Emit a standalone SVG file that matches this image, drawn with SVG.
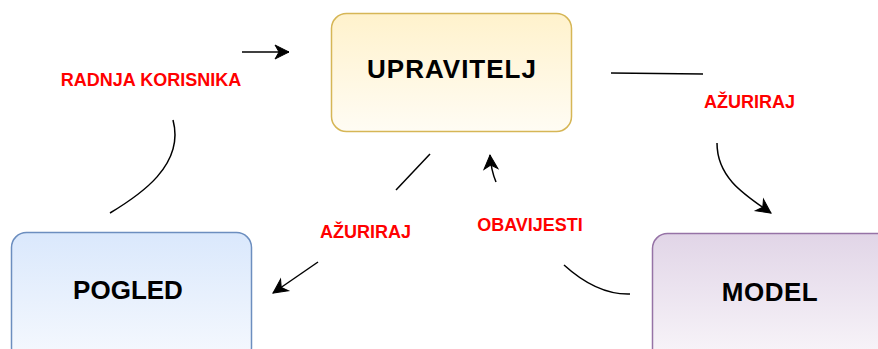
<svg xmlns="http://www.w3.org/2000/svg" width="878" height="349" viewBox="0 0 878 349">
  <style>
    .node-text { font-family: "Liberation Sans", Arial, sans-serif; font-weight: bold; font-size: 26px; fill: #000; text-anchor: middle; }
    .label { font-family: "Liberation Sans", Arial, sans-serif; font-weight: bold; font-size: 18px; fill: #ff0000; text-anchor: middle; }
    .conn { fill: none; stroke: #000; stroke-width: 1.5; }
  </style>
  <defs>
    <linearGradient id="gY" x1="0" y1="0" x2="0" y2="1">
      <stop offset="0" stop-color="#fff2cc"/>
      <stop offset="1" stop-color="#fffcf4"/>
    </linearGradient>
    <linearGradient id="gB" x1="0" y1="0" x2="0" y2="1">
      <stop offset="0" stop-color="#dae8fc"/>
      <stop offset="1" stop-color="#f6f9fe"/>
    </linearGradient>
    <linearGradient id="gP" x1="0" y1="0" x2="0" y2="1">
      <stop offset="0" stop-color="#e1d5e7"/>
      <stop offset="1" stop-color="#f9f6fa"/>
    </linearGradient>
    <marker id="arr" markerUnits="userSpaceOnUse" markerWidth="16" markerHeight="14" refX="14" refY="7" orient="auto" overflow="visible">
      <path d="M0,0 L14,7 L0,14 L4,7 Z" fill="#000" stroke="#000" stroke-width="1"/>
    </marker>
  </defs>

  <g id="upravitelj">
    <rect x="331.5" y="13.5" width="240" height="118" rx="15" ry="15" fill="url(#gY)" stroke="#d6b656" stroke-width="1.5"/>
    <text class="node-text" x="452" y="78" letter-spacing="1">UPRAVITELJ</text>
  </g>
  <g id="pogled">
    <rect x="11.5" y="232.5" width="240" height="130" rx="15" ry="15" fill="url(#gB)" stroke="#6c8ebf" stroke-width="1.5"/>
    <text class="node-text" x="128" y="299">POGLED</text>
  </g>
  <g id="model">
    <rect x="652.5" y="233.5" width="240" height="130" rx="15" ry="15" fill="url(#gP)" stroke="#9673a6" stroke-width="1.5"/>
    <text class="node-text" x="770" y="301" letter-spacing="0.5">MODEL</text>
  </g>

  <g id="connectors">
    <path class="conn" d="M110,213 C140,195 185,165 173,120"/>
    <path class="conn" d="M242,52 L289,52" marker-end="url(#arr)"/>
    <path class="conn" d="M611,73 L703,74"/>
    <path class="conn" d="M717,143 C717,178 745,195 771,213" marker-end="url(#arr)"/>
    <path class="conn" d="M430,154 L396,190"/>
    <path class="conn" d="M318,262 L273,293" marker-end="url(#arr)"/>
    <path class="conn" d="M630,294 Q597,295 564,265"/>
    <path class="conn" d="M496,182 Q491,170 490,155" marker-end="url(#arr)"/>
  </g>

  <g id="labels">
    <text class="label" x="151" y="86">RADNJA KORISNIKA</text>
    <text class="label" x="749.5" y="108">AŽURIRAJ</text>
    <text class="label" x="365.5" y="238">AŽURIRAJ</text>
    <text class="label" x="530" y="231">OBAVIJESTI</text>
  </g>
</svg>
